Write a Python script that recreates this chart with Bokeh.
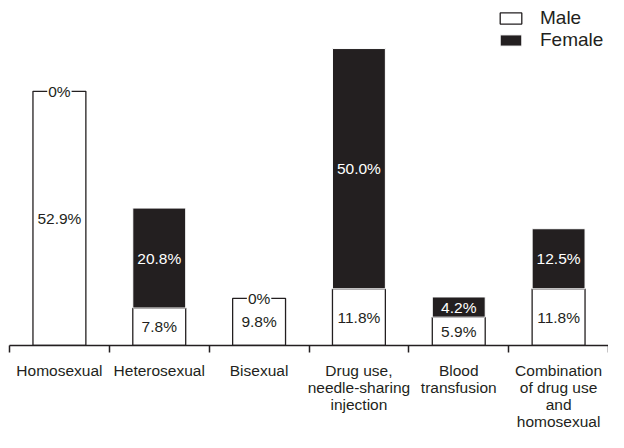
from bokeh.plotting import figure
from bokeh.models import ColumnDataSource, FixedTicker, Range1d, Legend, LegendItem, LinearAxis
from bokeh.core.properties import value
from bokeh.embed import file_html
from bokeh.resources import INLINE

categories = ["Homosexual", "Heterosexual", "Bisexual",
              "Drug use,\nneedle-sharing\ninjection", "Blood\ntransfusion",
              "Combination\nof drug use\nand\nhomosexual"]
male = [52.9, 7.8, 9.8, 11.8, 5.9, 11.8]
female = [0.0, 20.8, 0.0, 50.0, 4.2, 12.5]

INK = "#231f20"
FONT = "Liberation Sans"
FS = "15.5px"

xs = [i + 0.5 for i in range(len(categories))]

src = ColumnDataSource(dict(
    x=xs, male=male,
    male_mid=[m / 2 for m in male],
    male_lbl=[f"{m:.1f}%" for m in male],
))

p = figure(width=608, height=432, output_backend="svg", toolbar_location=None,
           x_range=Range1d(0, 6), y_range=Range1d(0, 71.8),
           x_axis_location=None, y_axis_location=None,
           min_border_left=9, min_border_right=0, min_border_top=0, min_border_bottom=80)
p.outline_line_color = None
p.grid.visible = False
p.background_fill_color = None
p.border_fill_color = "white"

W = 0.53
r_m = p.vbar(x="x", bottom=0, top="male", width=W, source=src,
             fill_color="white", line_color=INK, line_width=1.3)

fsrc = ColumnDataSource(dict(
    x=[x for x, f in zip(xs, female) if f > 0],
    bottom=[m for m, f in zip(male, female) if f > 0],
    top=[m + f for m, f in zip(male, female) if f > 0],
    mid=[m + f / 2 for m, f in zip(male, female) if f > 0],
    lbl=[f"{f:.1f}%" for f in female if f > 0],
))
r_f = p.vbar(x="x", bottom="bottom", top="top", width=W, source=fsrc,
             fill_color=INK, line_color="white", line_width=1)

# labels
p.text(x="x", y="male_mid", text="male_lbl", source=src, text_align="center",
       text_baseline="middle", text_font=value(FONT), text_font_size=FS, text_color=INK)
p.text(x="x", y="mid", text="lbl", source=fsrc, text_align="center",
       text_baseline="middle", text_font=value(FONT), text_font_size=FS, text_color="white")

zsrc = ColumnDataSource(dict(
    x=[x for x, f in zip(xs, female) if f == 0],
    y=[m for m, f in zip(male, female) if f == 0],
    lbl=["0%" for f in female if f == 0],
))
p.text(x="x", y="y", text="lbl", source=zsrc, text_align="center", text_baseline="middle",
       text_font=value(FONT), text_font_size=FS, text_color=INK,
       background_fill_color="white", padding=1)

# x axis
ax = LinearAxis(ticker=FixedTicker(ticks=xs, minor_ticks=list(range(len(categories) + 1))),
                major_label_overrides={x: c for x, c in zip(xs, categories)})
ax.axis_line_color = INK
ax.axis_line_width = 1.5
ax.major_tick_line_color = None
ax.major_tick_out = 0
ax.major_tick_in = 0
ax.minor_tick_line_color = INK
ax.minor_tick_line_width = 1.5
ax.minor_tick_out = 7
ax.minor_tick_in = 0
ax.major_label_standoff = 9
ax.major_label_text_font = FONT
ax.major_label_text_font_size = FS
ax.major_label_text_color = INK
ax.major_label_text_line_height = 1.0
p.add_layout(ax, "below")

legend = Legend(items=[LegendItem(label="Male", renderers=[r_m]),
                       LegendItem(label="Female", renderers=[r_f])],
                location=(488, 294), border_line_color=None, background_fill_color=None,
                label_text_font=FONT, label_text_font_size="19px", label_text_color=INK,
                glyph_width=27, glyph_height=14, spacing=0, padding=0, margin=0,
                label_standoff=16, label_height=20)
p.add_layout(legend)

open("out.html", "w").write(file_html(p, INLINE))
